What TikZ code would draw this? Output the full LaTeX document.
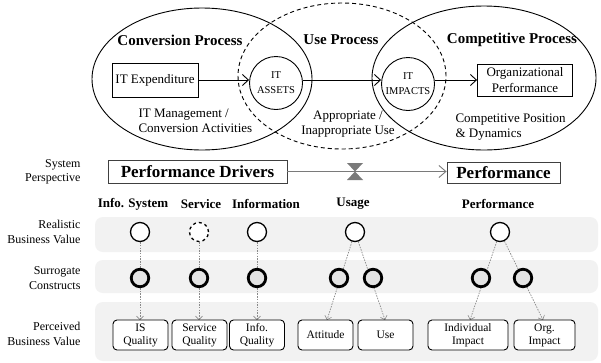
\documentclass[tikz,border=0pt]{standalone}
\usepackage{fontspec}
\setmainfont{Liberation Serif}
\usetikzlibrary{arrows.meta,shapes.geometric}
\definecolor{bandgray}{HTML}{F2F2F2}
\definecolor{scfill}{HTML}{E4E4E4}
\definecolor{conngray}{HTML}{7A7A7A}
\definecolor{dotgray}{HTML}{8A8A8A}
\pgfdeclarelayer{bg}
\pgfdeclarelayer{mid}
\pgfsetlayers{bg,mid,main}
\begin{document}
\begin{tikzpicture}[x=1pt,y=-1pt,
  ttl/.style={font=\fontsize{15}{17}\selectfont\bfseries},
  bodytxt/.style={font=\fontsize{13}{15.5}\selectfont},
  itcirc/.style={circle,draw,line width=0.9pt,minimum size=53pt,inner sep=0pt,align=center,font=\fontsize{10.5}{15}\selectfont},
  topbox/.style={draw,line width=0.9pt,inner sep=0pt,align=center,font=\fontsize{13}{15.5}\selectfont},
  topar/.style={line width=0.9pt,-{Straight Barb[length=6pt,width=11pt]}},
  perspbox/.style={draw=black!75,line width=0.8pt,inner sep=0pt,font=\fontsize{17}{19}\selectfont\bfseries},
  rowlab/.style={anchor=east,align=right,font=\fontsize{12}{14.5}\selectfont},
  colhead/.style={font=\fontsize{13}{15}\selectfont\bfseries},
  rvcirc/.style={circle,draw,line width=1.3pt,fill=white,minimum size=19pt,inner sep=0pt},
  sccirc/.style={circle,draw,line width=2.8pt,fill=scfill,minimum size=17.5pt,inner sep=0pt},
  pvbox/.style={draw,rounded corners=4pt,line width=0.9pt,fill=white,minimum height=30pt,minimum width=55pt,inner sep=0pt,align=center,font=\fontsize{11.5}{13}\selectfont},
  dotl/.style={draw=dotgray,line width=0.7pt,dash pattern=on 1.5pt off 1.2pt,-{Straight Barb[length=3.5pt,width=7pt,line width=0.6pt]}},
  band/.style={fill=bandgray,rounded corners=8pt}
]
\useasboundingbox (0,0) rectangle (601,362);

% ---- bands ----
\begin{pgfonlayer}{bg}
\fill[white] (0,0) rectangle (601,362);
\fill[band] (95,217) rectangle (598,252);
\fill[band] (95,260) rectangle (598,293);
\fill[band] (95,302) rectangle (598,361);
\end{pgfonlayer}

% ---- top: three processes ----
\draw[line width=0.9pt] (202,79) ellipse [x radius=110pt, y radius=71pt];
\draw[line width=0.9pt,dash pattern=on 4pt off 3pt] (342,76) ellipse [x radius=104pt, y radius=73pt];
\draw[line width=0.9pt] (484,78) ellipse [x radius=112pt, y radius=72pt];

\node[ttl] (convt) at (180,40) {Conversion Process};
\node[ttl] (uset) at (341,40) {Use Process};
\node[ttl] (compt) at (512,40) {Competitive Process};

\node[topbox,minimum width=86pt,minimum height=34pt] (exp) at (155,80) {IT Expenditure};
\node[itcirc] (assets) at (276,83) {IT\\ASSETS};
\node[itcirc] (impacts) at (408,84) {IT\\IMPACTS};
\node[topbox,minimum width=95pt,minimum height=32pt,font=\fontsize{13}{16}\selectfont] (org) at (525,80) {Organizational\\Performance};

\draw[topar] (exp.east) -- (exp.east -| assets.west);
\draw[topar] (assets.east |- exp.east) -- (impacts.west |- exp.east);
\draw[topar] (impacts.east |- org.west) -- (org.west);

\node[bodytxt,align=left,anchor=west] (mgmt) at (135,121) {IT Management /\\Conversion Activities};
\node[bodytxt,align=center] (appr) at (348,124) {Appropriate /\\Inappropriate Use};
\node[bodytxt,align=left,anchor=west] (cpos) at (452,127) {Competitive Position\\\& Dynamics};

% ---- system perspective ----
\node[rowlab] (sysp) at (84,172) {System\\Perspective};
\node[perspbox,minimum width=179pt,minimum height=23pt] (pd) at (197.5,171.5) {Performance Drivers};
\node[perspbox,minimum width=113pt,minimum height=21pt] (perf) at (503.5,172.5) {Performance};
\draw[draw=conngray,line width=0.9pt,-{Straight Barb[length=7pt,width=12pt]}] (pd.east) -- (perf.west |- pd.east);
\fill[conngray] (347,163) -- (363,163) -- (355,171.5) -- cycle;
\fill[conngray] (347,180) -- (363,180) -- (355,171.5) -- cycle;

% ---- column headings ----
\node[colhead] (hIS) at (133,204) {Info. System};
\node[colhead] (hSv) at (201,204) {Service};
\node[colhead] (hIn) at (266,204) {Information};
\node[colhead] (hUs) at (353,204) {Usage};
\node[colhead] (hPf) at (498,204) {Performance};

\node[rowlab] (rbv) at (84,232) {Realistic\\Business Value};
\node[rowlab] (sur) at (84,278) {Surrogate\\Constructs};
\node[rowlab] (pbv) at (84,334) {Perceived\\Business Value};

% ---- realistic business value ----
\node[rvcirc] (is1) at (140,232) {};
\node[rvcirc,dashed] (sv1) at (199,232) {};
\node[rvcirc] (in1) at (257,232) {};
\node[rvcirc] (us1) at (355,232) {};
\node[rvcirc] (pf1) at (500,232) {};

% ---- surrogate constructs ----
\node[sccirc] (is2) at (140,278) {};
\node[sccirc] (sv2) at (199,278) {};
\node[sccirc] (in2) at (257,278) {};
\node[sccirc] (at2) at (339,278) {};
\node[sccirc] (ue2) at (373,278) {};
\node[sccirc] (id2) at (481,278) {};
\node[sccirc] (og2) at (523,278) {};

% ---- perceived business value ----
\node[pvbox] (isq) at (140.5,335) {IS\\Quality};
\node[pvbox] (svq) at (199.5,335) {Service\\Quality};
\node[pvbox] (inq) at (257,335) {Info.\\Quality};
\node[pvbox] (att) at (325.5,335) {Attitude};
\node[pvbox] (use) at (385.5,335) {Use};
\node[pvbox,minimum width=80pt] (ind) at (468,335) {Individual\\Impact};
\node[pvbox,minimum width=61pt] (ogi) at (544.5,335) {Org.\\Impact};

\coordinate (istip) at (140,320);
\coordinate (svtip) at (199,320);
\coordinate (intip) at (257,320);
\coordinate (attip) at (327,320);
\coordinate (uetip) at (385,320);
\coordinate (idtip) at (470,320);
\coordinate (ogtip) at (543,320);

\begin{pgfonlayer}{mid}
\draw[dotl] (is1) -- (istip);
\draw[dotl] (sv1) -- (svtip);
\draw[dotl] (in1) -- (intip);
\draw[dotl] (us1) -- (attip);
\draw[dotl] (us1) -- (uetip);
\draw[dotl] (pf1) -- (idtip);
\draw[dotl] (pf1) -- (ogtip);
\end{pgfonlayer}
\end{tikzpicture}
\end{document}
